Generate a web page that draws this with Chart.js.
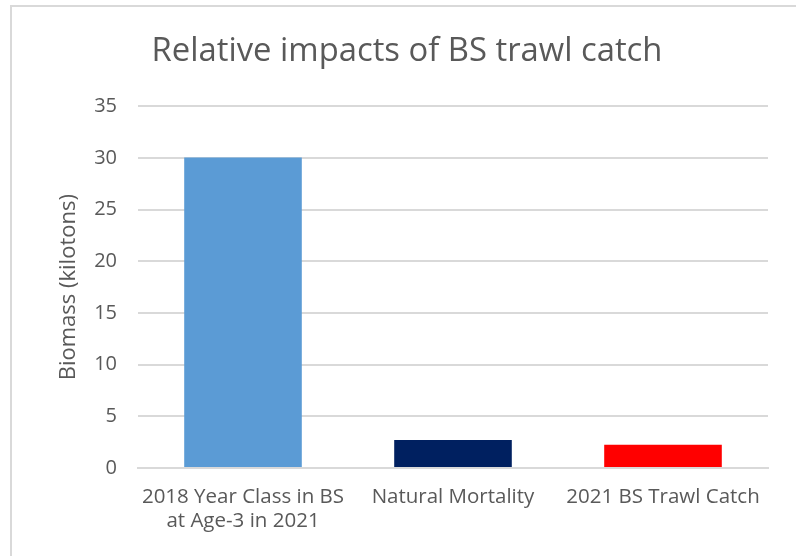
<!DOCTYPE html>
<html>
<head>
<meta charset="utf-8">
<script src="https://cdn.jsdelivr.net/npm/chart.js@4"></script>
<style>
  html, body { margin: 0; padding: 0; background: #fff; overflow: hidden; }
  #wrap { position: relative; width: 796px; height: 556px; }
  #frame { position: absolute; left: 10px; top: 5px; width: 900px; height: 700px; border: 2px solid #d9d9d9; box-sizing: border-box; }
  #impact-chart { position: absolute; left: 0; top: 0; }
</style>
</head>
<body>
<div id="wrap">
  <div id="frame"></div>
  <canvas id="impact-chart" width="796" height="556"></canvas>
</div>
<script>
const categories = [['2018 Year Class in BS', 'at Age-3 in 2021'], 'Natural Mortality', '2021 BS Trawl Catch']
const biomass = [30.05, 2.72, 2.24]
const bar_colors = ['#5b9bd5', '#002060', '#ff0000']
const y_ticks = [0, 5, 10, 15, 20, 25, 30, 35]

const font_family = '"Open Sans", "Liberation Sans", sans-serif',
      grey = '#595959'

// the title sits a little right of the plot centre in the original
const shift_title = {
  id: 'shift_title',
  afterLayout: chart => {
    chart.titleBlock.left += 23
    chart.titleBlock.right += 23
  }
}

window.addEventListener('DOMContentLoaded', () => {
  const ctx = document.getElementById('impact-chart').getContext('2d')

  new Chart(ctx, {
    type: 'bar',
    data: {
      labels: categories,
      datasets: [{
        data: biomass,
        backgroundColor: bar_colors,
        borderWidth: 0,
        barPercentage: 0.56,
        categoryPercentage: 1
      }]
    },
    plugins: [shift_title],
    options: {
      responsive: false,
      animation: false,
      layout: {
        padding: { left: 0, right: 28, top: 0, bottom: 0 }
      },
      plugins: {
        legend: { display: false },
        tooltip: { enabled: false },
        title: {
          display: true,
          text: 'Relative impacts of BS trawl catch',
          color: grey,
          font: { family: font_family, size: 32.8, weight: 'normal', lineHeight: 1.2 },
          padding: { top: 32, bottom: 35 }
        }
      },
      scales: {
        x: {
          grid: { display: false, drawTicks: false },
          border: { display: true, color: '#d9d9d9', width: 2 },
          ticks: {
            color: grey,
            padding: 17,
            maxRotation: 0,
            autoSkip: false,
            font: { family: font_family, size: 20.5, lineHeight: 1.17 }
          },
          afterFit: scale => { scale.height = 88 }
        },
        y: {
          min: 0,
          max: 35,
          afterBuildTicks: scale => { scale.ticks = y_ticks.map(v => ({ value: v })) },
          grid: { color: '#d9d9d9', lineWidth: 2, drawTicks: false },
          border: { display: false },
          ticks: {
            color: grey,
            padding: 21,
            font: { family: font_family, size: 20 }
          },
          title: {
            display: true,
            text: 'Biomass (kilotons)',
            color: grey,
            font: { family: font_family, size: 22 },
            padding: { top: 56, bottom: 0 }
          },
          afterFit: scale => { scale.width = 138 }
        }
      }
    }
  })
})
</script>
</body>
</html>
